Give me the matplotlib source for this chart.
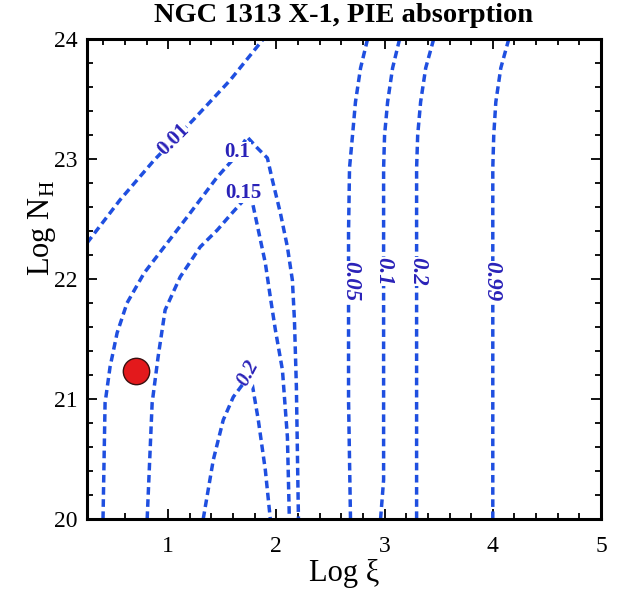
import matplotlib
matplotlib.use("Agg")
import matplotlib.pyplot as plt

plt.rcParams['font.family'] = ['Liberation Serif', 'DejaVu Serif']
plt.rcParams['mathtext.fontset'] = 'custom'
plt.rcParams['mathtext.rm'] = 'Liberation Serif'

# ---- data ----
c001_x = [0.25, 0.556, 0.870, 1.231, 1.574, 1.880]
c001_y = [22.30, 22.66, 22.99, 23.325, 23.658, 24.0]

c010_x = [0.398, 0.417, 0.463, 0.528, 0.620, 0.778, 0.963, 1.176, 1.454, 1.593, 1.731,
          1.824, 1.917, 1.963, 2.037, 2.102, 2.148, 2.167, 2.185, 2.204]
c010_y = [20.0, 20.967, 21.267, 21.55, 21.80, 22.05, 22.267, 22.517, 22.85, 22.99, 23.183,
          23.092, 23.008, 22.825, 22.55, 22.267, 21.99, 21.658, 21.10, 20.0]

c015_x = [0.806, 0.852, 0.907, 0.972, 1.111, 1.296, 1.454, 1.574, 1.741,
          1.778, 1.833, 1.898, 1.944, 1.991, 2.056, 2.102, 2.120]
c015_y = [20.0, 20.967, 21.35, 21.742, 22.017, 22.267, 22.408, 22.533, 22.70,
          22.642, 22.408, 22.133, 21.85, 21.575, 21.242, 20.683, 20.0]

c020_x = [1.324, 1.417, 1.509, 1.602, 1.685, 1.741, 1.778, 1.833, 1.898, 1.944]
c020_y = [20.0, 20.492, 20.825, 21.017, 21.117, 21.175, 21.117, 20.825, 20.408, 20.0]

v005_x = [2.843, 2.778, 2.731, 2.704, 2.676, 2.667, 2.667, 2.685]
v005_y = [24.0, 23.758, 23.475, 23.2, 22.925, 22.392, 20.992, 20.0]

v010_x = [3.139, 3.074, 3.028, 3.0, 2.991, 2.991, 2.991, 2.963]
v010_y = [24.0, 23.758, 23.475, 23.2, 22.925, 22.392, 20.325, 20.0]

v020_x = [3.454, 3.380, 3.333, 3.306, 3.296, 3.296, 3.296]
v020_y = [24.0, 23.758, 23.475, 23.2, 22.925, 22.392, 20.0]

v099_x = [4.148, 4.074, 4.028, 4.009, 4.0, 4.0]
v099_y = [24.0, 23.758, 23.475, 23.2, 22.925, 20.0]

label_text = ['0.01', '0.1', '0.15', '0.2', '0.05', '0.1', '0.2', '0.99']
label_x = [1.046, 1.640, 1.694, 1.741, 2.685, 2.99, 3.306, 3.99]
label_y = [23.16, 23.06, 22.72, 21.22, 21.98, 22.06, 22.06, 21.98]
label_rot = [45, 0, 0, 62, -90, -90, -90, -90]
label_size = [15, 15, 15, 15, 16.5, 16.5, 16.5, 16.5]
label_style = ['normal', 'normal', 'normal', 'italic', 'italic', 'italic', 'italic', 'italic']

source_x = [0.70]
source_y = [21.23]

x_ticks = [1, 2, 3, 4, 5]
y_ticks = [20, 21, 22, 23, 24]

# ---- figure ----
fig = plt.figure(figsize=(6.28, 5.91), dpi=100)
ax = fig.add_axes([87/628, 1-519/591, 514/628, 480/591])

line_color = '#1f4fe0'
ls = (0, (2.2, 1.3))
for xs, ys in [(c001_x, c001_y), (c010_x, c010_y), (c015_x, c015_y), (c020_x, c020_y),
               (v005_x, v005_y), (v010_x, v010_y), (v020_x, v020_y), (v099_x, v099_y)]:
    ax.plot(xs, ys, color=line_color, lw=2.5, linestyle=ls, zorder=2)

for t, x, y, r, fs, st in zip(label_text, label_x, label_y, label_rot, label_size, label_style):
    ax.text(x, y, t, rotation=r, ha='center', va='center', fontsize=fs,
            fontweight='bold', fontstyle=st, color='#2a22b8', zorder=3,
            bbox=dict(facecolor='white', edgecolor='none', pad=0.2))

ax.plot(source_x, source_y, 'o', markersize=19, markerfacecolor='#e3191c',
        markeredgecolor='#3a1010', markeredgewidth=1.0, zorder=4)

ax.set_xlim(0.25, 5)
ax.set_ylim(20, 24)
ax.set_xticks(x_ticks)
ax.set_yticks(y_ticks)
ax.set_xticks([v/10 for v in range(4, 50, 2)], minor=True)
ax.set_yticks([20 + v/10 for v in range(0, 41, 2)], minor=True)
ax.tick_params(which='both', direction='in', top=True, right=True, width=1.3)
ax.tick_params(which='major', length=7, labelsize=17, pad=7)
ax.tick_params(which='minor', length=4)
ax.tick_params(axis='x', which='major', pad=12)
for s in ax.spines.values():
    s.set_linewidth(2.2)

ax.set_xlabel('Log ξ', fontsize=22)
ax.set_ylabel(r'Log N$_{\rm H}$', fontsize=22)
ax.xaxis.set_label_coords(0.5, -0.083)
ax.yaxis.set_label_coords(-0.056, 0.606)
ax.text(0.5, 1 + 24/480, 'NGC 1313 X-1, PIE absorption', transform=ax.transAxes,
        ha='center', va='center', fontsize=20.5, fontweight='bold')

fig.savefig('out.png', dpi=100)
